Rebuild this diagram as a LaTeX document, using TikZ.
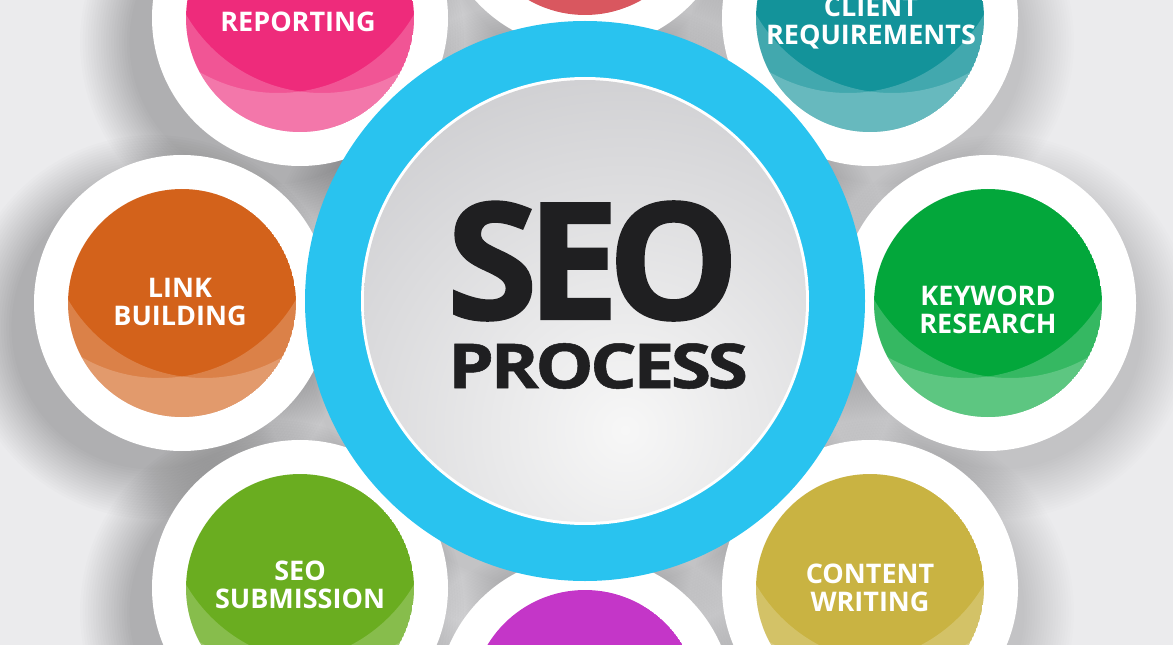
\documentclass[tikz,border=0pt]{standalone}
\usepackage{fontspec}
\setmainfont{Open Sans}
\usepackage{graphicx}
\definecolor{bgcol}{HTML}{EBEBED}
\definecolor{pinkR}{HTML}{EE2B7B}
\definecolor{topred}{HTML}{D9575F}
\definecolor{tealC}{HTML}{13939A}
\definecolor{greenK}{HTML}{03A73B}
\definecolor{oliveW}{HTML}{C9B342}
\definecolor{purpleB}{HTML}{C436C8}
\definecolor{limeS}{HTML}{6AAD20}
\definecolor{orangeL}{HTML}{D3621B}
\definecolor{ringblue}{HTML}{29C3EF}
\definecolor{darktext}{HTML}{1F1F21}
\definecolor{innerlight}{HTML}{F7F7F7}
\definecolor{innerdark}{HTML}{CDCDD0}
% x, y, r, dx, dy, opacity
\newcommand\softshadow[6]{%
  \foreach \k in {0,...,19}{\fill[black,opacity=#6] ({#1+#4},{#2+#5}) circle ({#3+44-2.6*\k});}}
% name, x, y, colour, highlights (1/0)
\newcommand\satdisk[5]{%
  \fill[white] (#2,#3) circle (148);
  \begin{scope}
    \clip (#2,#3) circle (114);
    \fill[#4] (#2,#3) circle (114);
    \ifnum#5=1
    \fill[white,opacity=.2,even odd rule] (#2,#3) circle (114) ({#2+22},{#3-82}) circle (157);
    \fill[white,opacity=.2,even odd rule] (#2,#3) circle (114) ({#2-22},{#3-82}) circle (157);
    \fi
  \end{scope}
  \coordinate (#1) at (#2,#3);
}
\begin{document}
\begin{tikzpicture}[x=1pt,y=-1pt,
  lbl/.style={text=white,font=\fontsize{27}{28}\selectfont\bfseries,align=center,inner sep=0pt,text depth=0pt}]
\useasboundingbox (0,0) rectangle (1173,647);
\fill[bgcol] (0,0) rectangle (1173,647);
% shadows
\softshadow{585}{-99}{148}{0}{22}{.009}
\softshadow{300}{18}{148}{-28}{24}{.011}
\softshadow{870}{18}{148}{12}{24}{.008}
\softshadow{182}{303}{148}{-28}{24}{.011}
\softshadow{988}{303}{148}{12}{24}{.008}
\softshadow{300}{588}{148}{-28}{24}{.011}
\softshadow{870}{588}{148}{12}{24}{.008}
\softshadow{585}{704}{148}{0}{22}{.009}
\softshadow{585}{301}{280}{-6}{18}{.008}
% satellites
\satdisk{top}{585}{-99}{topred}{0}
\satdisk{rep}{300}{18}{pinkR}{1}
\satdisk{cli}{870}{18}{tealC}{1}
\satdisk{lnk}{182}{303}{orangeL}{1}
\satdisk{key}{988}{303}{greenK}{1}
\satdisk{sub}{300}{588}{limeS}{1}
\satdisk{con}{870}{588}{oliveW}{1}
\satdisk{bot}{585}{704}{purpleB}{0}
\node[lbl] (reptext) at (298,22) {REPORTING};
\node[lbl] (clitext) at (871,21) {CLIENT\\REQUIREMENTS};
\node[lbl] (lnktext) at (180,302) {LINK\\BUILDING};
\node[lbl] (keytext) at (988,310) {KEYWORD\\RESEARCH};
\node[lbl] (subtext) at (300,585) {SEO\\SUBMISSION};
\node[lbl] (context) at (870,588) {CONTENT\\WRITING};
% central circle
\coordinate (c) at (585,301);
\fill[ringblue] (c) circle (280);
\fill[white] (c) circle (224);
\begin{scope}
  \clip (c) circle (221);
  \shade[inner color=innerlight,outer color=innerdark] (625,430) circle (390);
\end{scope}
\node[text=darktext,inner sep=0pt] (seo) at (593,261)
  {\resizebox{293pt}{118pt}{\bfseries\addfontfeature{LetterSpace=-7,FakeBold=1.2}SEO}};
\node[text=darktext,inner sep=0pt] (proc) at (598,366)
  {\resizebox{300pt}{45pt}{\bfseries\addfontfeature{LetterSpace=-5,FakeBold=0.8}PROCESS}};
\fill[white] (0,645) rectangle (1173,647);
\end{tikzpicture}
\end{document}
